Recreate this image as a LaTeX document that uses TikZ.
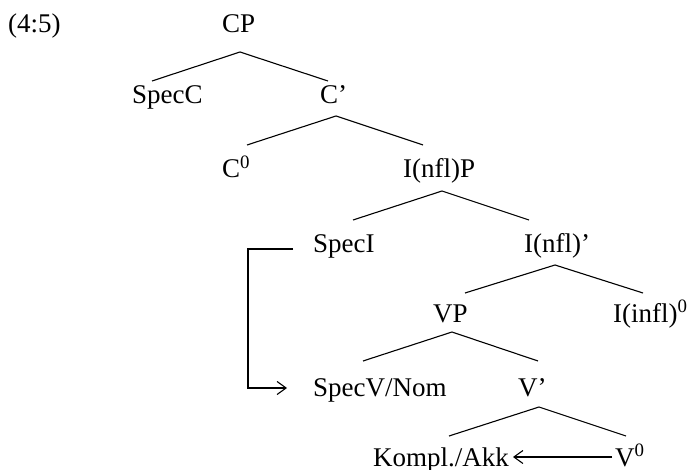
\documentclass[tikz,border=0pt]{standalone}
\usepackage{fontspec}
\setmainfont{Liberation Serif}
\usetikzlibrary{arrows.meta}
\begin{document}
\begin{tikzpicture}[x=1pt,y=-1pt,
  lbl/.style={inner sep=0pt, anchor=base west, font=\fontsize{27}{32}\selectfont},
  branch/.style={line width=1.1pt, line join=miter},
  arr/.style={line width=1.1pt, -{Straight Barb[length=9pt,width=13pt,line width=1.1pt]}}]
\useasboundingbox (0,0) rectangle (690,470);
% labels
\node[lbl] (ex) at (8,33) {(4:5)};
\node[lbl] (cp) at (222,33) {CP};
\node[lbl] (specc) at (132,104) {SpecC};
\node[lbl] (cbar) at (320,104) {C’};
\node[lbl] (c0) at (222,178) {C\textsuperscript{0}};
\node[lbl] (ip) at (403,178) {I(nfl)P};
\node[lbl] (speci) at (313,252) {SpecI};
\node[lbl] (ibar) at (524,252) {I(nfl)’};
\node[lbl] (vp) at (433,322) {VP};
\node[lbl] (i0) at (613,322) {I(infl)\textsuperscript{0}};
\node[lbl] (specv) at (313,396) {SpecV/Nom};
\node[lbl] (vbar) at (518,396) {V’};
\node[lbl] (kompl) at (373,466) {Kompl./Akk};
\node[lbl] (v0) at (615,466) {V\textsuperscript{0}};
% branch points
\coordinate (cp-b) at (240,52);
\coordinate (specc-t) at (152,81);
\coordinate (cbar-t) at (328,81);
\coordinate (cbar-b) at (336,116);
\coordinate (c0-t) at (247,145);
\coordinate (ip-t) at (423,145);
\coordinate (ip-b) at (442,191);
\coordinate (speci-t) at (353,220);
\coordinate (ibar-t) at (529,220);
\coordinate (ibar-b) at (555,265);
\coordinate (vp-t) at (465,293);
\coordinate (i0-t) at (643,293);
\coordinate (vp-b) at (452,332);
\coordinate (specv-t) at (363,361);
\coordinate (vbar-t) at (538,361);
\coordinate (vbar-b) at (539,407);
\coordinate (kompl-t) at (449,436);
\coordinate (v0-t) at (626,436);
% branches
\draw[branch] (specc-t) -- (cp-b) -- (cbar-t);
\draw[branch] (c0-t) -- (cbar-b) -- (ip-t);
\draw[branch] (speci-t) -- (ip-b) -- (ibar-t);
\draw[branch] (vp-t) -- (ibar-b) -- (i0-t);
\draw[branch] (specv-t) -- (vp-b) -- (vbar-t);
\draw[branch] (kompl-t) -- (vbar-b) -- (v0-t);
% movement arrows
\coordinate (speci-out) at (293,249);
\coordinate (specv-in) at (287,388);
\draw[arr] (speci-out) -- ++(-45,0) |- (specv-in);
\coordinate (v0-out) at (612,457);
\coordinate (kompl-in) at (513,457);
\draw[arr] (v0-out) -- (kompl-in);
\end{tikzpicture}
\end{document}
